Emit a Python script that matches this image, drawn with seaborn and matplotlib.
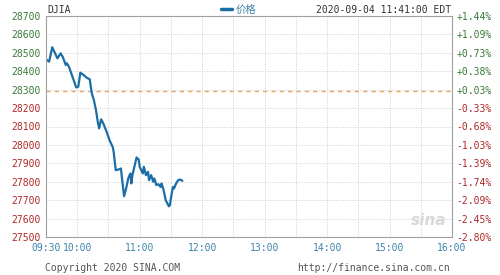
import matplotlib
matplotlib.use("Agg")
import matplotlib.pyplot as plt
import matplotlib.transforms as mtransforms
import seaborn as sns
import pandas as pd

# ---- data ----
minutes = [0, 3, 6, 8, 11, 14, 16, 19, 20, 22, 26, 29, 31, 33, 36, 39, 42, 44, 46, 48,
           50, 51, 53, 55, 58, 61, 64, 65, 67, 70, 72, 73, 75, 77, 79, 81, 82, 83, 86, 87,
           89, 90, 93, 94, 96, 98, 99, 101, 103, 104, 106, 108, 110, 111, 113, 115, 118,
           119, 121, 122, 123, 125, 127, 129, 131]
prices = [28465, 28452, 28530, 28506, 28470, 28497, 28479, 28434, 28443, 28425, 28361,
          28312, 28316, 28392, 28380, 28365, 28356, 28280, 28243, 28189, 28117, 28090,
          28139, 28117, 28075, 28026, 27990, 27963, 27863, 27867, 27872, 27818, 27722,
          27764, 27818, 27845, 27791, 27836, 27908, 27932, 27921, 27881, 27845, 27881,
          27836, 27854, 27809, 27836, 27800, 27818, 27782, 27787, 27772, 27791, 27754,
          27700, 27667, 27673, 27745, 27772, 27764, 27791, 27809, 27812, 27805]
prev_close = 28292.6
y_ticks = [27500, 27600, 27700, 27800, 27900, 28000, 28100, 28200, 28300, 28400, 28500, 28600, 28700]
pct_labels = ["-2.80%", "-2.45%", "-2.09%", "-1.74%", "-1.39%", "-1.03%", "-0.68%", "-0.33%",
              "+0.03%", "+0.38%", "+0.73%", "+1.09%", "+1.44%"]
x_tick_min = [0, 30, 90, 150, 210, 270, 330, 390]
x_tick_labels = ["09:30", "10:00", "11:00", "12:00", "13:00", "14:00", "15:00", "16:00"]
title_left = "DJIA"
legend_label = "价格"
stamp = "2020-09-04 11:41:00 EDT"

df = pd.DataFrame({"t": minutes, "price": prices})

sns.set_style("white")
plt.rcParams["font.family"] = ["DejaVu Sans Mono", "Noto Sans CJK SC"]

fig = plt.figure(figsize=(5, 2.75), dpi=100)
ax = fig.add_axes([0.092, 0.138, 0.812, 0.804])

GREEN = "#3a7a3a"
RED = "#b02828"
LINE = "#1b6ea5"
XTICK = "#3c84a8"

sns.lineplot(data=df, x="t", y="price", ax=ax, color=LINE, linewidth=1.6)
ax.axhline(prev_close, color="#e5a36a", linestyle=(0, (3, 3)), linewidth=1.0, zorder=1)

ax.set_xlim(0, 390)
ax.set_ylim(27500, 28700)
ax.set_xlabel("")
ax.set_ylabel("")

ax.set_yticks(y_ticks)
ax.set_yticklabels([str(v) for v in y_ticks], fontsize=7)
for lab, v in zip(ax.get_yticklabels(), y_ticks):
    lab.set_color(GREEN if v >= prev_close else RED)

grid_x = list(range(0, 391, 30))
for gx in grid_x[1:-1]:
    ax.axvline(gx, color="#cfcfcf", linestyle=(0, (1, 1.5)), linewidth=0.7, zorder=0)
for gy in y_ticks[1:-1]:
    ax.axhline(gy, color="#cfcfcf", linestyle=(0, (1, 1.5)), linewidth=0.7, zorder=0)

ax.set_xticks(x_tick_min)
ax.set_xticklabels(x_tick_labels, fontsize=7, color=XTICK)
shifts = [-5, -16]
for lab, s in zip(ax.get_xticklabels()[:2], shifts):
    lab.set_transform(lab.get_transform() + mtransforms.ScaledTranslation(s / 100, 0, fig.dpi_scale_trans))
ax.tick_params(axis="both", length=0, pad=4)

for sp in ax.spines.values():
    sp.set_color("#a0a0a0")
    sp.set_linewidth(0.8)

ax2 = ax.twinx()
ax2.set_ylim(27500, 28700)
ax2.set_yticks(y_ticks)
ax2.set_yticklabels(pct_labels, fontsize=7)
for lab, v in zip(ax2.get_yticklabels(), y_ticks):
    lab.set_color(GREEN if v >= prev_close else RED)
ax2.tick_params(axis="y", length=0, pad=3)
for sp in ax2.spines.values():
    sp.set_visible(False)

# header texts
fig.text(0.094, 0.963, title_left, fontsize=7, color="#333333", ha="left", va="center")
fig.lines.append(plt.Line2D([0.442, 0.464], [0.968, 0.968], transform=fig.transFigure,
                            color=LINE, linewidth=2.5))
fig.text(0.472, 0.963, legend_label, fontsize=7.5, color=XTICK, ha="left", va="center",
         family=["Noto Sans CJK SC", "DejaVu Sans"])
fig.text(0.902, 0.963, stamp, fontsize=7, color="#333333", ha="right", va="center")

# footer texts
fig.text(0.09, 0.025, "Copyright 2020 SINA.COM", fontsize=7, color="#555555", ha="left", va="center")
fig.text(0.9, 0.025, "http://finance.sina.com.cn", fontsize=7, color="#555555", ha="right", va="center")

# watermark
ax.text(0.985, 0.04, "sina", transform=ax.transAxes, fontsize=11, color="#d8d8d8",
        style="italic", ha="right", va="bottom", family="DejaVu Sans", fontweight="bold")

fig.savefig("out.png", dpi=100, facecolor="white")
